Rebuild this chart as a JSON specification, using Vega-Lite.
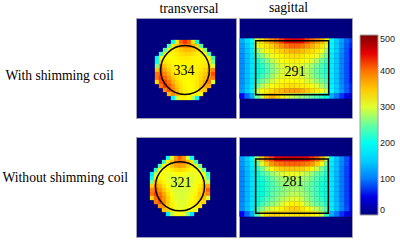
{"$schema":"https://vega.github.io/schema/vega-lite/v6.json","background":"white","padding":{"left":1,"top":0,"right":0,"bottom":0},"config":{"view":{"fill":"#00007f","stroke":"#a0a0b4","strokeWidth":1},"text":{"font":"Liberation Serif"}},"columns":2,"spacing":{"row":17,"column":1},"concat":[
{"width":100,"height":100,"title":{"text":"transversal","font":"Liberation Serif","fontSize":13.6,"fontWeight":"normal","dx":3,"offset":2},"layer":[
{"data":{"values":[
{"c":37,"r":24,"v":210},{"c":41,"r":24,"v":320},{"c":45,"r":24,"v":410},{"c":49,"r":24,"v":430},{"c":53,"r":24,"v":410},{"c":57,"r":24,"v":330},{"c":61,"r":24,"v":210},
{"c":33,"r":28,"v":240},{"c":37,"r":28,"v":330},{"c":41,"r":28,"v":350},{"c":45,"r":28,"v":375},{"c":49,"r":28,"v":390},{"c":53,"r":28,"v":390},{"c":57,"r":28,"v":370},{"c":61,"r":28,"v":345},{"c":65,"r":28,"v":240},
{"c":29,"r":32,"v":240},{"c":33,"r":32,"v":320},{"c":37,"r":32,"v":325},{"c":41,"r":32,"v":335},{"c":45,"r":32,"v":350},{"c":49,"r":32,"v":360},{"c":53,"r":32,"v":360},{"c":57,"r":32,"v":355},{"c":61,"r":32,"v":340},{"c":65,"r":32,"v":325},{"c":69,"r":32,"v":260},
{"c":25,"r":36,"v":230},{"c":29,"r":36,"v":325},{"c":33,"r":36,"v":320},{"c":37,"r":36,"v":320},{"c":41,"r":36,"v":325},{"c":45,"r":36,"v":335},{"c":49,"r":36,"v":340},{"c":53,"r":36,"v":340},{"c":57,"r":36,"v":335},{"c":61,"r":36,"v":325},{"c":65,"r":36,"v":320},{"c":69,"r":36,"v":320},{"c":73,"r":36,"v":240},
{"c":21,"r":40,"v":180},{"c":25,"r":40,"v":310},{"c":29,"r":40,"v":320},{"c":33,"r":40,"v":315},{"c":37,"r":40,"v":315},{"c":41,"r":40,"v":320},{"c":45,"r":40,"v":325},{"c":49,"r":40,"v":325},{"c":53,"r":40,"v":325},{"c":57,"r":40,"v":320},{"c":61,"r":40,"v":318},{"c":65,"r":40,"v":318},{"c":69,"r":40,"v":320},{"c":73,"r":40,"v":320},{"c":77,"r":40,"v":230},
{"c":21,"r":44,"v":200},{"c":25,"r":44,"v":340},{"c":29,"r":44,"v":330},{"c":33,"r":44,"v":320},{"c":37,"r":44,"v":315},{"c":41,"r":44,"v":315},{"c":45,"r":44,"v":318},{"c":49,"r":44,"v":320},{"c":53,"r":44,"v":320},{"c":57,"r":44,"v":318},{"c":61,"r":44,"v":318},{"c":65,"r":44,"v":320},{"c":69,"r":44,"v":325},{"c":73,"r":44,"v":325},{"c":77,"r":44,"v":260},
{"c":21,"r":48,"v":260},{"c":25,"r":48,"v":380},{"c":29,"r":48,"v":350},{"c":33,"r":48,"v":330},{"c":37,"r":48,"v":320},{"c":41,"r":48,"v":315},{"c":45,"r":48,"v":315},{"c":49,"r":48,"v":318},{"c":53,"r":48,"v":320},{"c":57,"r":48,"v":320},{"c":61,"r":48,"v":320},{"c":65,"r":48,"v":325},{"c":69,"r":48,"v":330},{"c":73,"r":48,"v":340},{"c":77,"r":48,"v":300},
{"c":21,"r":52,"v":350},{"c":25,"r":52,"v":400},{"c":29,"r":52,"v":370},{"c":33,"r":52,"v":345},{"c":37,"r":52,"v":325},{"c":41,"r":52,"v":318},{"c":45,"r":52,"v":315},{"c":49,"r":52,"v":318},{"c":53,"r":52,"v":320},{"c":57,"r":52,"v":320},{"c":61,"r":52,"v":322},{"c":65,"r":52,"v":330},{"c":69,"r":52,"v":340},{"c":73,"r":52,"v":360},{"c":77,"r":52,"v":390},
{"c":21,"r":56,"v":400},{"c":25,"r":56,"v":410},{"c":29,"r":56,"v":390},{"c":33,"r":56,"v":360},{"c":37,"r":56,"v":335},{"c":41,"r":56,"v":322},{"c":45,"r":56,"v":318},{"c":49,"r":56,"v":318},{"c":53,"r":56,"v":318},{"c":57,"r":56,"v":320},{"c":61,"r":56,"v":325},{"c":65,"r":56,"v":335},{"c":69,"r":56,"v":350},{"c":73,"r":56,"v":375},{"c":77,"r":56,"v":420},
{"c":21,"r":60,"v":400},{"c":25,"r":60,"v":430},{"c":29,"r":60,"v":410},{"c":33,"r":60,"v":380},{"c":37,"r":60,"v":350},{"c":41,"r":60,"v":330},{"c":45,"r":60,"v":320},{"c":49,"r":60,"v":316},{"c":53,"r":60,"v":316},{"c":57,"r":60,"v":318},{"c":61,"r":60,"v":325},{"c":65,"r":60,"v":340},{"c":69,"r":60,"v":360},{"c":73,"r":60,"v":385},{"c":77,"r":60,"v":400},
{"c":21,"r":64,"v":340},{"c":25,"r":64,"v":420},{"c":29,"r":64,"v":425},{"c":33,"r":64,"v":400},{"c":37,"r":64,"v":365},{"c":41,"r":64,"v":340},{"c":45,"r":64,"v":325},{"c":49,"r":64,"v":316},{"c":53,"r":64,"v":314},{"c":57,"r":64,"v":318},{"c":61,"r":64,"v":328},{"c":65,"r":64,"v":345},{"c":69,"r":64,"v":370},{"c":73,"r":64,"v":400},{"c":77,"r":64,"v":300},
{"c":25,"r":68,"v":400},{"c":29,"r":68,"v":430},{"c":33,"r":68,"v":415},{"c":37,"r":68,"v":385},{"c":41,"r":68,"v":350},{"c":45,"r":68,"v":330},{"c":49,"r":68,"v":318},{"c":53,"r":68,"v":314},{"c":57,"r":68,"v":316},{"c":61,"r":68,"v":330},{"c":65,"r":68,"v":350},{"c":69,"r":68,"v":375},{"c":73,"r":68,"v":370},
{"c":29,"r":72,"v":390},{"c":33,"r":72,"v":420},{"c":37,"r":72,"v":395},{"c":41,"r":72,"v":360},{"c":45,"r":72,"v":335},{"c":49,"r":72,"v":320},{"c":53,"r":72,"v":314},{"c":57,"r":72,"v":314},{"c":61,"r":72,"v":325},{"c":65,"r":72,"v":345},{"c":69,"r":72,"v":350},
{"c":33,"r":76,"v":360},{"c":37,"r":76,"v":390},{"c":41,"r":76,"v":370},{"c":45,"r":76,"v":340},{"c":49,"r":76,"v":322},{"c":53,"r":76,"v":316},{"c":57,"r":76,"v":315},{"c":61,"r":76,"v":320},{"c":65,"r":76,"v":310},
{"c":37,"r":80,"v":180},{"c":41,"r":80,"v":290},{"c":45,"r":80,"v":320},{"c":49,"r":80,"v":320},{"c":53,"r":80,"v":315},{"c":57,"r":80,"v":280},{"c":61,"r":80,"v":180}
]},"mark":{"type":"rect","width":4.3,"height":4.3,"clip":true,"opacity":1},"encoding":{"x":{"field":"c","type":"quantitative","scale":{"domain":[0,100],"nice":false},"axis":null},"y":{"field":"r","type":"quantitative","scale":{"domain":[0,100],"nice":false,"reverse":true},"axis":{"title":"With shimming coil","titleAngle":0,"titleAlign":"left","titleBaseline":"middle","titleX":-131,"titleY":57,"titleFont":"Liberation Serif","titleFontSize":13.6,"titleFontWeight":"normal","labels":false,"ticks":false,"domain":false,"grid":false}},"color":{"field":"v","type":"quantitative","scale":{"domain":[0,62.5,187.5,312.5,437.5,500],"range":["#00007f","#0000ff","#00ffff","#ffff00","#ff0000","#7f0000"]},"legend":{"title":null,"orient":"none","legendX":224,"legendY":17,"gradientLength":180,"gradientThickness":18,"values":[0,100,200,300,400,500],"labelFont":"Liberation Sans","labelFontSize":9,"labelColor":"#222222","gradientStrokeColor":"#a0a0a0","gradientStrokeWidth":1,"tickCount":6}}}},
{"data":{"values":[{"c":49,"r":52}]},"mark":{"type":"point","shape":"circle","size":2376,"filled":false,"stroke":"#000000","strokeWidth":1.5,"opacity":1},"encoding":{"x":{"field":"c","type":"quantitative","axis":null},"y":{"field":"r","type":"quantitative","axis":{"title":"With shimming coil","titleAngle":0,"titleAlign":"left","titleBaseline":"middle","titleX":-131,"titleY":57,"titleFont":"Liberation Serif","titleFontSize":13.6,"titleFontWeight":"normal","labels":false,"ticks":false,"domain":false,"grid":false}}}},
{"data":{"values":[{"c":48,"r":53,"t":"334"}]},"mark":{"type":"text","font":"Liberation Serif","fontSize":14,"color":"#000000"},"encoding":{"x":{"field":"c","type":"quantitative","axis":null},"y":{"field":"r","type":"quantitative","axis":{"title":"With shimming coil","titleAngle":0,"titleAlign":"left","titleBaseline":"middle","titleX":-131,"titleY":57,"titleFont":"Liberation Serif","titleFontSize":13.6,"titleFontWeight":"normal","labels":false,"ticks":false,"domain":false,"grid":false}},"text":{"field":"t"}}}
]},
{"width":113,"height":100,"title":{"text":"sagittal","font":"Liberation Serif","fontSize":13.6,"fontWeight":"normal","dx":-7,"offset":3},"layer":[
{"data":{"values":[
{"c":3,"r":23,"v":130},{"c":8,"r":23,"v":160},{"c":13,"r":23,"v":190},{"c":18,"r":23,"v":300},{"c":23,"r":23,"v":330},{"c":28,"r":23,"v":360},{"c":33,"r":23,"v":385},{"c":38,"r":23,"v":405},{"c":43,"r":23,"v":425},{"c":48,"r":23,"v":440},{"c":53,"r":23,"v":450},{"c":58,"r":23,"v":450},{"c":63,"r":23,"v":440},{"c":68,"r":23,"v":425},{"c":73,"r":23,"v":405},{"c":78,"r":23,"v":385},{"c":83,"r":23,"v":360},{"c":88,"r":23,"v":320},{"c":93,"r":23,"v":190},{"c":98,"r":23,"v":150},{"c":103,"r":23,"v":120},{"c":108,"r":23,"v":90},{"c":113,"r":23,"v":70},
{"c":3,"r":28,"v":120},{"c":8,"r":28,"v":150},{"c":13,"r":28,"v":180},{"c":18,"r":28,"v":300},{"c":23,"r":28,"v":320},{"c":28,"r":28,"v":330},{"c":33,"r":28,"v":345},{"c":38,"r":28,"v":365},{"c":43,"r":28,"v":385},{"c":48,"r":28,"v":400},{"c":53,"r":28,"v":410},{"c":58,"r":28,"v":410},{"c":63,"r":28,"v":400},{"c":68,"r":28,"v":385},{"c":73,"r":28,"v":365},{"c":78,"r":28,"v":345},{"c":83,"r":28,"v":330},{"c":88,"r":28,"v":300},{"c":93,"r":28,"v":185},{"c":98,"r":28,"v":150},{"c":103,"r":28,"v":115},{"c":108,"r":28,"v":85},{"c":113,"r":28,"v":65},
{"c":3,"r":33,"v":115},{"c":8,"r":33,"v":145},{"c":13,"r":33,"v":175},{"c":18,"r":33,"v":270},{"c":23,"r":33,"v":295},{"c":28,"r":33,"v":315},{"c":33,"r":33,"v":325},{"c":38,"r":33,"v":335},{"c":43,"r":33,"v":345},{"c":48,"r":33,"v":355},{"c":53,"r":33,"v":365},{"c":58,"r":33,"v":365},{"c":63,"r":33,"v":355},{"c":68,"r":33,"v":345},{"c":73,"r":33,"v":335},{"c":78,"r":33,"v":325},{"c":83,"r":33,"v":310},{"c":88,"r":33,"v":275},{"c":93,"r":33,"v":180},{"c":98,"r":33,"v":150},{"c":103,"r":33,"v":110},{"c":108,"r":33,"v":80},{"c":113,"r":33,"v":60},
{"c":3,"r":38,"v":110},{"c":8,"r":38,"v":140},{"c":13,"r":38,"v":170},{"c":18,"r":38,"v":245},{"c":23,"r":38,"v":265},{"c":28,"r":38,"v":290},{"c":33,"r":38,"v":305},{"c":38,"r":38,"v":315},{"c":43,"r":38,"v":320},{"c":48,"r":38,"v":330},{"c":53,"r":38,"v":335},{"c":58,"r":38,"v":335},{"c":63,"r":38,"v":330},{"c":68,"r":38,"v":320},{"c":73,"r":38,"v":315},{"c":78,"r":38,"v":305},{"c":83,"r":38,"v":285},{"c":88,"r":38,"v":255},{"c":93,"r":38,"v":175},{"c":98,"r":38,"v":145},{"c":103,"r":38,"v":105},{"c":108,"r":38,"v":80},{"c":113,"r":38,"v":60},
{"c":3,"r":43,"v":110},{"c":8,"r":43,"v":140},{"c":13,"r":43,"v":170},{"c":18,"r":43,"v":225},{"c":23,"r":43,"v":240},{"c":28,"r":43,"v":260},{"c":33,"r":43,"v":285},{"c":38,"r":43,"v":300},{"c":43,"r":43,"v":310},{"c":48,"r":43,"v":315},{"c":53,"r":43,"v":320},{"c":58,"r":43,"v":320},{"c":63,"r":43,"v":315},{"c":68,"r":43,"v":310},{"c":73,"r":43,"v":300},{"c":78,"r":43,"v":280},{"c":83,"r":43,"v":255},{"c":88,"r":43,"v":235},{"c":93,"r":43,"v":175},{"c":98,"r":43,"v":145},{"c":103,"r":43,"v":105},{"c":108,"r":43,"v":80},{"c":113,"r":43,"v":60},
{"c":3,"r":48,"v":110},{"c":8,"r":48,"v":140},{"c":13,"r":48,"v":170},{"c":18,"r":48,"v":215},{"c":23,"r":48,"v":230},{"c":28,"r":48,"v":245},{"c":33,"r":48,"v":265},{"c":38,"r":48,"v":285},{"c":43,"r":48,"v":300},{"c":48,"r":48,"v":305},{"c":53,"r":48,"v":305},{"c":58,"r":48,"v":305},{"c":63,"r":48,"v":300},{"c":68,"r":48,"v":290},{"c":73,"r":48,"v":275},{"c":78,"r":48,"v":255},{"c":83,"r":48,"v":240},{"c":88,"r":48,"v":225},{"c":93,"r":48,"v":175},{"c":98,"r":48,"v":145},{"c":103,"r":48,"v":105},{"c":108,"r":48,"v":80},{"c":113,"r":48,"v":60},
{"c":3,"r":53,"v":110},{"c":8,"r":53,"v":140},{"c":13,"r":53,"v":170},{"c":18,"r":53,"v":215},{"c":23,"r":53,"v":225},{"c":28,"r":53,"v":240},{"c":33,"r":53,"v":260},{"c":38,"r":53,"v":280},{"c":43,"r":53,"v":295},{"c":48,"r":53,"v":300},{"c":53,"r":53,"v":300},{"c":58,"r":53,"v":300},{"c":63,"r":53,"v":295},{"c":68,"r":53,"v":285},{"c":73,"r":53,"v":265},{"c":78,"r":53,"v":250},{"c":83,"r":53,"v":235},{"c":88,"r":53,"v":225},{"c":93,"r":53,"v":175},{"c":98,"r":53,"v":145},{"c":103,"r":53,"v":105},{"c":108,"r":53,"v":80},{"c":113,"r":53,"v":60},
{"c":3,"r":58,"v":110},{"c":8,"r":58,"v":140},{"c":13,"r":58,"v":170},{"c":18,"r":58,"v":220},{"c":23,"r":58,"v":235},{"c":28,"r":58,"v":250},{"c":33,"r":58,"v":270},{"c":38,"r":58,"v":290},{"c":43,"r":58,"v":300},{"c":48,"r":58,"v":305},{"c":53,"r":58,"v":305},{"c":58,"r":58,"v":305},{"c":63,"r":58,"v":300},{"c":68,"r":58,"v":290},{"c":73,"r":58,"v":270},{"c":78,"r":58,"v":255},{"c":83,"r":58,"v":240},{"c":88,"r":58,"v":230},{"c":93,"r":58,"v":175},{"c":98,"r":58,"v":145},{"c":103,"r":58,"v":105},{"c":108,"r":58,"v":80},{"c":113,"r":58,"v":60},
{"c":3,"r":63,"v":110},{"c":8,"r":63,"v":140},{"c":13,"r":63,"v":170},{"c":18,"r":63,"v":235},{"c":23,"r":63,"v":250},{"c":28,"r":63,"v":270},{"c":33,"r":63,"v":290},{"c":38,"r":63,"v":305},{"c":43,"r":63,"v":310},{"c":48,"r":63,"v":315},{"c":53,"r":63,"v":315},{"c":58,"r":63,"v":315},{"c":63,"r":63,"v":310},{"c":68,"r":63,"v":300},{"c":73,"r":63,"v":290},{"c":78,"r":63,"v":270},{"c":83,"r":63,"v":255},{"c":88,"r":63,"v":240},{"c":93,"r":63,"v":175},{"c":98,"r":63,"v":145},{"c":103,"r":63,"v":105},{"c":108,"r":63,"v":80},{"c":113,"r":63,"v":60},
{"c":3,"r":68,"v":115},{"c":8,"r":68,"v":145},{"c":13,"r":68,"v":175},{"c":18,"r":68,"v":255},{"c":23,"r":68,"v":280},{"c":28,"r":68,"v":300},{"c":33,"r":68,"v":310},{"c":38,"r":68,"v":320},{"c":43,"r":68,"v":325},{"c":48,"r":68,"v":330},{"c":53,"r":68,"v":335},{"c":58,"r":68,"v":330},{"c":63,"r":68,"v":325},{"c":68,"r":68,"v":320},{"c":73,"r":68,"v":310},{"c":78,"r":68,"v":300},{"c":83,"r":68,"v":280},{"c":88,"r":68,"v":260},{"c":93,"r":68,"v":180},{"c":98,"r":68,"v":150},{"c":103,"r":68,"v":110},{"c":108,"r":68,"v":85},{"c":113,"r":68,"v":65},
{"c":3,"r":73,"v":120},{"c":8,"r":73,"v":150},{"c":13,"r":73,"v":180},{"c":18,"r":73,"v":290},{"c":23,"r":73,"v":310},{"c":28,"r":73,"v":325},{"c":33,"r":73,"v":335},{"c":38,"r":73,"v":350},{"c":43,"r":73,"v":360},{"c":48,"r":73,"v":370},{"c":53,"r":73,"v":375},{"c":58,"r":73,"v":375},{"c":63,"r":73,"v":365},{"c":68,"r":73,"v":350},{"c":73,"r":73,"v":335},{"c":78,"r":73,"v":325},{"c":83,"r":73,"v":310},{"c":88,"r":73,"v":290},{"c":93,"r":73,"v":185},{"c":98,"r":73,"v":150},{"c":103,"r":73,"v":115},{"c":108,"r":73,"v":85},{"c":113,"r":73,"v":65},
{"c":3,"r":78,"v":60},{"c":8,"r":78,"v":90},{"c":13,"r":78,"v":130},{"c":18,"r":78,"v":250},{"c":23,"r":78,"v":290},{"c":28,"r":78,"v":340},{"c":33,"r":78,"v":360},{"c":38,"r":78,"v":340},{"c":43,"r":78,"v":320},{"c":48,"r":78,"v":300},{"c":53,"r":78,"v":290},{"c":58,"r":78,"v":280},{"c":63,"r":78,"v":270},{"c":68,"r":78,"v":260},{"c":73,"r":78,"v":250},{"c":78,"r":78,"v":240},{"c":83,"r":78,"v":230},{"c":88,"r":78,"v":210},{"c":93,"r":78,"v":130},{"c":98,"r":78,"v":100},{"c":103,"r":78,"v":70},{"c":108,"r":78,"v":50},{"c":113,"r":78,"v":40}
]},"mark":{"type":"rect","width":5.3,"height":5.3,"clip":true,"opacity":1},"encoding":{"x":{"field":"c","type":"quantitative","scale":{"domain":[0,113],"nice":false},"axis":null},"y":{"field":"r","type":"quantitative","scale":{"domain":[0,100],"nice":false,"reverse":true},"axis":null},"color":{"field":"v","type":"quantitative","scale":{"domain":[0,62.5,187.5,312.5,437.5,500],"range":["#00007f","#0000ff","#00ffff","#ffff00","#ff0000","#7f0000"]}}}},
{"data":{"values":[{"a":16.7,"b":89.7,"d":22.7,"e":76.7}]},"mark":{"type":"rect","fill":"transparent","stroke":"#000000","strokeWidth":1.5,"opacity":1},"encoding":{"x":{"field":"a","type":"quantitative","axis":null},"x2":{"field":"b"},"y":{"field":"d","type":"quantitative","axis":null},"y2":{"field":"e"}}},
{"data":{"values":[{"c":56,"r":54,"t":"291"}]},"mark":{"type":"text","font":"Liberation Serif","fontSize":14,"color":"#000000"},"encoding":{"x":{"field":"c","type":"quantitative","axis":null},"y":{"field":"r","type":"quantitative","axis":null},"text":{"field":"t"}}}
]},
{"width":100,"height":100,"layer":[
{"data":{"values":[
{"c":32,"r":21,"v":200},{"c":36,"r":21,"v":300},{"c":40,"r":21,"v":380},{"c":44,"r":21,"v":410},{"c":48,"r":21,"v":380},{"c":52,"r":21,"v":300},{"c":56,"r":21,"v":200},
{"c":28,"r":25,"v":230},{"c":32,"r":25,"v":320},{"c":36,"r":25,"v":350},{"c":40,"r":25,"v":385},{"c":44,"r":25,"v":400},{"c":48,"r":25,"v":390},{"c":52,"r":25,"v":360},{"c":56,"r":25,"v":330},{"c":60,"r":25,"v":240},
{"c":24,"r":29,"v":240},{"c":28,"r":29,"v":315},{"c":32,"r":29,"v":325},{"c":36,"r":29,"v":350},{"c":40,"r":29,"v":370},{"c":44,"r":29,"v":375},{"c":48,"r":29,"v":370},{"c":52,"r":29,"v":345},{"c":56,"r":29,"v":325},{"c":60,"r":29,"v":315},{"c":64,"r":29,"v":260},
{"c":20,"r":33,"v":230},{"c":24,"r":33,"v":310},{"c":28,"r":33,"v":310},{"c":32,"r":33,"v":315},{"c":36,"r":33,"v":325},{"c":40,"r":33,"v":335},{"c":44,"r":33,"v":340},{"c":48,"r":33,"v":335},{"c":52,"r":33,"v":325},{"c":56,"r":33,"v":315},{"c":60,"r":33,"v":310},{"c":64,"r":33,"v":310},{"c":68,"r":33,"v":250},
{"c":16,"r":37,"v":170},{"c":20,"r":37,"v":290},{"c":24,"r":37,"v":310},{"c":28,"r":37,"v":308},{"c":32,"r":37,"v":305},{"c":36,"r":37,"v":305},{"c":40,"r":37,"v":310},{"c":44,"r":37,"v":312},{"c":48,"r":37,"v":310},{"c":52,"r":37,"v":305},{"c":56,"r":37,"v":305},{"c":60,"r":37,"v":305},{"c":64,"r":37,"v":310},{"c":68,"r":37,"v":310},{"c":72,"r":37,"v":230},
{"c":16,"r":41,"v":190},{"c":20,"r":41,"v":320},{"c":24,"r":41,"v":320},{"c":28,"r":41,"v":310},{"c":32,"r":41,"v":303},{"c":36,"r":41,"v":300},{"c":40,"r":41,"v":300},{"c":44,"r":41,"v":302},{"c":48,"r":41,"v":302},{"c":52,"r":41,"v":300},{"c":56,"r":41,"v":302},{"c":60,"r":41,"v":305},{"c":64,"r":41,"v":310},{"c":68,"r":41,"v":320},{"c":72,"r":41,"v":250},
{"c":16,"r":45,"v":260},{"c":20,"r":45,"v":360},{"c":24,"r":45,"v":335},{"c":28,"r":45,"v":318},{"c":32,"r":45,"v":305},{"c":36,"r":45,"v":300},{"c":40,"r":45,"v":298},{"c":44,"r":45,"v":298},{"c":48,"r":45,"v":298},{"c":52,"r":45,"v":298},{"c":56,"r":45,"v":300},{"c":60,"r":45,"v":305},{"c":64,"r":45,"v":315},{"c":68,"r":45,"v":330},{"c":72,"r":45,"v":290},
{"c":16,"r":49,"v":340},{"c":20,"r":49,"v":385},{"c":24,"r":49,"v":360},{"c":28,"r":49,"v":332},{"c":32,"r":49,"v":312},{"c":36,"r":49,"v":302},{"c":40,"r":49,"v":298},{"c":44,"r":49,"v":296},{"c":48,"r":49,"v":296},{"c":52,"r":49,"v":298},{"c":56,"r":49,"v":302},{"c":60,"r":49,"v":310},{"c":64,"r":49,"v":325},{"c":68,"r":49,"v":350},{"c":72,"r":49,"v":370},
{"c":16,"r":53,"v":390},{"c":20,"r":53,"v":410},{"c":24,"r":53,"v":385},{"c":28,"r":53,"v":350},{"c":32,"r":53,"v":322},{"c":36,"r":53,"v":305},{"c":40,"r":53,"v":298},{"c":44,"r":53,"v":296},{"c":48,"r":53,"v":296},{"c":52,"r":53,"v":298},{"c":56,"r":53,"v":304},{"c":60,"r":53,"v":315},{"c":64,"r":53,"v":335},{"c":68,"r":53,"v":360},{"c":72,"r":53,"v":410},
{"c":16,"r":57,"v":400},{"c":20,"r":57,"v":425},{"c":24,"r":57,"v":405},{"c":28,"r":57,"v":370},{"c":32,"r":57,"v":335},{"c":36,"r":57,"v":310},{"c":40,"r":57,"v":300},{"c":44,"r":57,"v":297},{"c":48,"r":57,"v":297},{"c":52,"r":57,"v":300},{"c":56,"r":57,"v":308},{"c":60,"r":57,"v":320},{"c":64,"r":57,"v":345},{"c":68,"r":57,"v":365},{"c":72,"r":57,"v":390},
{"c":16,"r":61,"v":340},{"c":20,"r":61,"v":410},{"c":24,"r":61,"v":415},{"c":28,"r":61,"v":385},{"c":32,"r":61,"v":345},{"c":36,"r":61,"v":318},{"c":40,"r":61,"v":302},{"c":44,"r":61,"v":298},{"c":48,"r":61,"v":298},{"c":52,"r":61,"v":302},{"c":56,"r":61,"v":310},{"c":60,"r":61,"v":325},{"c":64,"r":61,"v":345},{"c":68,"r":61,"v":360},{"c":72,"r":61,"v":300},
{"c":20,"r":65,"v":395},{"c":24,"r":65,"v":420},{"c":28,"r":65,"v":390},{"c":32,"r":65,"v":350},{"c":36,"r":65,"v":320},{"c":40,"r":65,"v":305},{"c":44,"r":65,"v":300},{"c":48,"r":65,"v":300},{"c":52,"r":65,"v":305},{"c":56,"r":65,"v":315},{"c":60,"r":65,"v":325},{"c":64,"r":65,"v":335},{"c":68,"r":65,"v":340},
{"c":24,"r":69,"v":385},{"c":28,"r":69,"v":390},{"c":32,"r":69,"v":350},{"c":36,"r":69,"v":322},{"c":40,"r":69,"v":308},{"c":44,"r":69,"v":302},{"c":48,"r":69,"v":302},{"c":52,"r":69,"v":308},{"c":56,"r":69,"v":318},{"c":60,"r":69,"v":325},{"c":64,"r":69,"v":330},
{"c":28,"r":73,"v":355},{"c":32,"r":73,"v":350},{"c":36,"r":73,"v":325},{"c":40,"r":73,"v":310},{"c":44,"r":73,"v":305},{"c":48,"r":73,"v":305},{"c":52,"r":73,"v":308},{"c":56,"r":73,"v":312},{"c":60,"r":73,"v":305},
{"c":32,"r":77,"v":170},{"c":36,"r":77,"v":280},{"c":40,"r":77,"v":310},{"c":44,"r":77,"v":312},{"c":48,"r":77,"v":305},{"c":52,"r":77,"v":270},{"c":56,"r":77,"v":170}
]},"mark":{"type":"rect","width":4.3,"height":4.3,"clip":true,"opacity":1},"encoding":{"x":{"field":"c","type":"quantitative","scale":{"domain":[0,100],"nice":false},"axis":null},"y":{"field":"r","type":"quantitative","scale":{"domain":[0,100],"nice":false,"reverse":true},"axis":{"title":"Without shimming coil","titleAngle":0,"titleAlign":"left","titleBaseline":"middle","titleX":-134,"titleY":40,"titleFont":"Liberation Serif","titleFontSize":13.6,"titleFontWeight":"normal","labels":false,"ticks":false,"domain":false,"grid":false}},"color":{"field":"v","type":"quantitative","scale":{"domain":[0,62.5,187.5,312.5,437.5,500],"range":["#00007f","#0000ff","#00ffff","#ffff00","#ff0000","#7f0000"]}}}},
{"data":{"values":[{"c":44,"r":49.3}]},"mark":{"type":"point","shape":"circle","size":2410,"filled":false,"stroke":"#000000","strokeWidth":1.5,"opacity":1},"encoding":{"x":{"field":"c","type":"quantitative","axis":null},"y":{"field":"r","type":"quantitative","axis":{"title":"Without shimming coil","titleAngle":0,"titleAlign":"left","titleBaseline":"middle","titleX":-134,"titleY":40,"titleFont":"Liberation Serif","titleFontSize":13.6,"titleFontWeight":"normal","labels":false,"ticks":false,"domain":false,"grid":false}}}},
{"data":{"values":[{"c":45,"r":46,"t":"321"}]},"mark":{"type":"text","font":"Liberation Serif","fontSize":14,"color":"#000000"},"encoding":{"x":{"field":"c","type":"quantitative","axis":null},"y":{"field":"r","type":"quantitative","axis":{"title":"Without shimming coil","titleAngle":0,"titleAlign":"left","titleBaseline":"middle","titleX":-134,"titleY":40,"titleFont":"Liberation Serif","titleFontSize":13.6,"titleFontWeight":"normal","labels":false,"ticks":false,"domain":false,"grid":false}},"text":{"field":"t"}}}
]},
{"width":113,"height":100,"layer":[
{"data":{"values":[
{"c":3,"r":22,"v":120},{"c":8,"r":22,"v":150},{"c":13,"r":22,"v":180},{"c":18,"r":22,"v":280},{"c":23,"r":22,"v":350},{"c":28,"r":22,"v":400},{"c":33,"r":22,"v":420},{"c":38,"r":22,"v":440},{"c":43,"r":22,"v":450},{"c":48,"r":22,"v":450},{"c":53,"r":22,"v":455},{"c":58,"r":22,"v":450},{"c":63,"r":22,"v":450},{"c":68,"r":22,"v":440},{"c":73,"r":22,"v":430},{"c":78,"r":22,"v":410},{"c":83,"r":22,"v":370},{"c":88,"r":22,"v":290},{"c":93,"r":22,"v":180},{"c":98,"r":22,"v":145},{"c":103,"r":22,"v":110},{"c":108,"r":22,"v":80},{"c":113,"r":22,"v":60},
{"c":3,"r":27,"v":115},{"c":8,"r":27,"v":145},{"c":13,"r":27,"v":175},{"c":18,"r":27,"v":250},{"c":23,"r":27,"v":300},{"c":28,"r":27,"v":345},{"c":33,"r":27,"v":380},{"c":38,"r":27,"v":395},{"c":43,"r":27,"v":405},{"c":48,"r":27,"v":410},{"c":53,"r":27,"v":410},{"c":58,"r":27,"v":410},{"c":63,"r":27,"v":405},{"c":68,"r":27,"v":395},{"c":73,"r":27,"v":380},{"c":78,"r":27,"v":350},{"c":83,"r":27,"v":310},{"c":88,"r":27,"v":255},{"c":93,"r":27,"v":175},{"c":98,"r":27,"v":140},{"c":103,"r":27,"v":105},{"c":108,"r":27,"v":80},{"c":113,"r":27,"v":60},
{"c":3,"r":32,"v":110},{"c":8,"r":32,"v":140},{"c":13,"r":32,"v":170},{"c":18,"r":32,"v":230},{"c":23,"r":32,"v":255},{"c":28,"r":32,"v":285},{"c":33,"r":32,"v":315},{"c":38,"r":32,"v":335},{"c":43,"r":32,"v":345},{"c":48,"r":32,"v":350},{"c":53,"r":32,"v":350},{"c":58,"r":32,"v":350},{"c":63,"r":32,"v":345},{"c":68,"r":32,"v":335},{"c":73,"r":32,"v":320},{"c":78,"r":32,"v":290},{"c":83,"r":32,"v":260},{"c":88,"r":32,"v":235},{"c":93,"r":32,"v":170},{"c":98,"r":32,"v":140},{"c":103,"r":32,"v":100},{"c":108,"r":32,"v":75},{"c":113,"r":32,"v":60},
{"c":3,"r":37,"v":105},{"c":8,"r":37,"v":135},{"c":13,"r":37,"v":165},{"c":18,"r":37,"v":220},{"c":23,"r":37,"v":235},{"c":28,"r":37,"v":250},{"c":33,"r":37,"v":270},{"c":38,"r":37,"v":285},{"c":43,"r":37,"v":295},{"c":48,"r":37,"v":305},{"c":53,"r":37,"v":305},{"c":58,"r":37,"v":305},{"c":63,"r":37,"v":295},{"c":68,"r":37,"v":285},{"c":73,"r":37,"v":270},{"c":78,"r":37,"v":250},{"c":83,"r":37,"v":240},{"c":88,"r":37,"v":225},{"c":93,"r":37,"v":170},{"c":98,"r":37,"v":135},{"c":103,"r":37,"v":100},{"c":108,"r":37,"v":75},{"c":113,"r":37,"v":55},
{"c":3,"r":42,"v":105},{"c":8,"r":42,"v":135},{"c":13,"r":42,"v":165},{"c":18,"r":42,"v":215},{"c":23,"r":42,"v":225},{"c":28,"r":42,"v":235},{"c":33,"r":42,"v":250},{"c":38,"r":42,"v":265},{"c":43,"r":42,"v":275},{"c":48,"r":42,"v":280},{"c":53,"r":42,"v":285},{"c":58,"r":42,"v":285},{"c":63,"r":42,"v":280},{"c":68,"r":42,"v":270},{"c":73,"r":42,"v":255},{"c":78,"r":42,"v":240},{"c":83,"r":42,"v":230},{"c":88,"r":42,"v":220},{"c":93,"r":42,"v":170},{"c":98,"r":42,"v":135},{"c":103,"r":42,"v":100},{"c":108,"r":42,"v":75},{"c":113,"r":42,"v":55},
{"c":3,"r":47,"v":105},{"c":8,"r":47,"v":135},{"c":13,"r":47,"v":165},{"c":18,"r":47,"v":210},{"c":23,"r":47,"v":220},{"c":28,"r":47,"v":230},{"c":33,"r":47,"v":240},{"c":38,"r":47,"v":255},{"c":43,"r":47,"v":265},{"c":48,"r":47,"v":270},{"c":53,"r":47,"v":275},{"c":58,"r":47,"v":275},{"c":63,"r":47,"v":270},{"c":68,"r":47,"v":260},{"c":73,"r":47,"v":245},{"c":78,"r":47,"v":235},{"c":83,"r":47,"v":225},{"c":88,"r":47,"v":215},{"c":93,"r":47,"v":170},{"c":98,"r":47,"v":135},{"c":103,"r":47,"v":100},{"c":108,"r":47,"v":75},{"c":113,"r":47,"v":55},
{"c":3,"r":52,"v":105},{"c":8,"r":52,"v":135},{"c":13,"r":52,"v":165},{"c":18,"r":52,"v":210},{"c":23,"r":52,"v":220},{"c":28,"r":52,"v":230},{"c":33,"r":52,"v":240},{"c":38,"r":52,"v":250},{"c":43,"r":52,"v":260},{"c":48,"r":52,"v":270},{"c":53,"r":52,"v":275},{"c":58,"r":52,"v":275},{"c":63,"r":52,"v":270},{"c":68,"r":52,"v":255},{"c":73,"r":52,"v":245},{"c":78,"r":52,"v":235},{"c":83,"r":52,"v":225},{"c":88,"r":52,"v":215},{"c":93,"r":52,"v":170},{"c":98,"r":52,"v":135},{"c":103,"r":52,"v":100},{"c":108,"r":52,"v":75},{"c":113,"r":52,"v":55},
{"c":3,"r":57,"v":105},{"c":8,"r":57,"v":135},{"c":13,"r":57,"v":165},{"c":18,"r":57,"v":210},{"c":23,"r":57,"v":220},{"c":28,"r":57,"v":230},{"c":33,"r":57,"v":245},{"c":38,"r":57,"v":255},{"c":43,"r":57,"v":265},{"c":48,"r":57,"v":275},{"c":53,"r":57,"v":285},{"c":58,"r":57,"v":285},{"c":63,"r":57,"v":275},{"c":68,"r":57,"v":265},{"c":73,"r":57,"v":250},{"c":78,"r":57,"v":235},{"c":83,"r":57,"v":225},{"c":88,"r":57,"v":215},{"c":93,"r":57,"v":170},{"c":98,"r":57,"v":135},{"c":103,"r":57,"v":100},{"c":108,"r":57,"v":75},{"c":113,"r":57,"v":55},
{"c":3,"r":62,"v":105},{"c":8,"r":62,"v":135},{"c":13,"r":62,"v":165},{"c":18,"r":62,"v":215},{"c":23,"r":62,"v":225},{"c":28,"r":62,"v":240},{"c":33,"r":62,"v":250},{"c":38,"r":62,"v":265},{"c":43,"r":62,"v":280},{"c":48,"r":62,"v":290},{"c":53,"r":62,"v":300},{"c":58,"r":62,"v":300},{"c":63,"r":62,"v":290},{"c":68,"r":62,"v":270},{"c":73,"r":62,"v":255},{"c":78,"r":62,"v":240},{"c":83,"r":62,"v":230},{"c":88,"r":62,"v":220},{"c":93,"r":62,"v":170},{"c":98,"r":62,"v":135},{"c":103,"r":62,"v":100},{"c":108,"r":62,"v":75},{"c":113,"r":62,"v":55},
{"c":3,"r":67,"v":110},{"c":8,"r":67,"v":140},{"c":13,"r":67,"v":170},{"c":18,"r":67,"v":220},{"c":23,"r":67,"v":235},{"c":28,"r":67,"v":250},{"c":33,"r":67,"v":265},{"c":38,"r":67,"v":280},{"c":43,"r":67,"v":295},{"c":48,"r":67,"v":310},{"c":53,"r":67,"v":320},{"c":58,"r":67,"v":320},{"c":63,"r":67,"v":305},{"c":68,"r":67,"v":285},{"c":73,"r":67,"v":265},{"c":78,"r":67,"v":250},{"c":83,"r":67,"v":240},{"c":88,"r":67,"v":225},{"c":93,"r":67,"v":175},{"c":98,"r":67,"v":140},{"c":103,"r":67,"v":105},{"c":108,"r":67,"v":75},{"c":113,"r":67,"v":60},
{"c":3,"r":72,"v":110},{"c":8,"r":72,"v":140},{"c":13,"r":72,"v":170},{"c":18,"r":72,"v":240},{"c":23,"r":72,"v":260},{"c":28,"r":72,"v":285},{"c":33,"r":72,"v":300},{"c":38,"r":72,"v":310},{"c":43,"r":72,"v":320},{"c":48,"r":72,"v":335},{"c":53,"r":72,"v":345},{"c":58,"r":72,"v":345},{"c":63,"r":72,"v":330},{"c":68,"r":72,"v":315},{"c":73,"r":72,"v":300},{"c":78,"r":72,"v":285},{"c":83,"r":72,"v":265},{"c":88,"r":72,"v":245},{"c":93,"r":72,"v":175},{"c":98,"r":72,"v":140},{"c":103,"r":72,"v":105},{"c":108,"r":72,"v":80},{"c":113,"r":72,"v":60},
{"c":3,"r":77,"v":60},{"c":8,"r":77,"v":90},{"c":13,"r":77,"v":130},{"c":18,"r":77,"v":240},{"c":23,"r":77,"v":300},{"c":28,"r":77,"v":330},{"c":33,"r":77,"v":340},{"c":38,"r":77,"v":340},{"c":43,"r":77,"v":330},{"c":48,"r":77,"v":330},{"c":53,"r":77,"v":330},{"c":58,"r":77,"v":330},{"c":63,"r":77,"v":330},{"c":68,"r":77,"v":330},{"c":73,"r":77,"v":320},{"c":78,"r":77,"v":310},{"c":83,"r":77,"v":290},{"c":88,"r":77,"v":230},{"c":93,"r":77,"v":130},{"c":98,"r":77,"v":100},{"c":103,"r":77,"v":70},{"c":108,"r":77,"v":50},{"c":113,"r":77,"v":40}
]},"mark":{"type":"rect","width":5.3,"height":5.3,"clip":true,"opacity":1},"encoding":{"x":{"field":"c","type":"quantitative","scale":{"domain":[0,113],"nice":false},"axis":null},"y":{"field":"r","type":"quantitative","scale":{"domain":[0,100],"nice":false,"reverse":true},"axis":null},"color":{"field":"v","type":"quantitative","scale":{"domain":[0,62.5,187.5,312.5,437.5,500],"range":["#00007f","#0000ff","#00ffff","#ffff00","#ff0000","#7f0000"]}}}},
{"data":{"values":[{"a":16.7,"b":89.3,"d":22,"e":76.3}]},"mark":{"type":"rect","fill":"transparent","stroke":"#000000","strokeWidth":1.5,"opacity":1},"encoding":{"x":{"field":"a","type":"quantitative","axis":null},"x2":{"field":"b"},"y":{"field":"d","type":"quantitative","axis":null},"y2":{"field":"e"}}},
{"data":{"values":[{"c":54,"r":45,"t":"281"}]},"mark":{"type":"text","font":"Liberation Serif","fontSize":14,"color":"#000000"},"encoding":{"x":{"field":"c","type":"quantitative","axis":null},"y":{"field":"r","type":"quantitative","axis":null},"text":{"field":"t"}}}
]}
]}
